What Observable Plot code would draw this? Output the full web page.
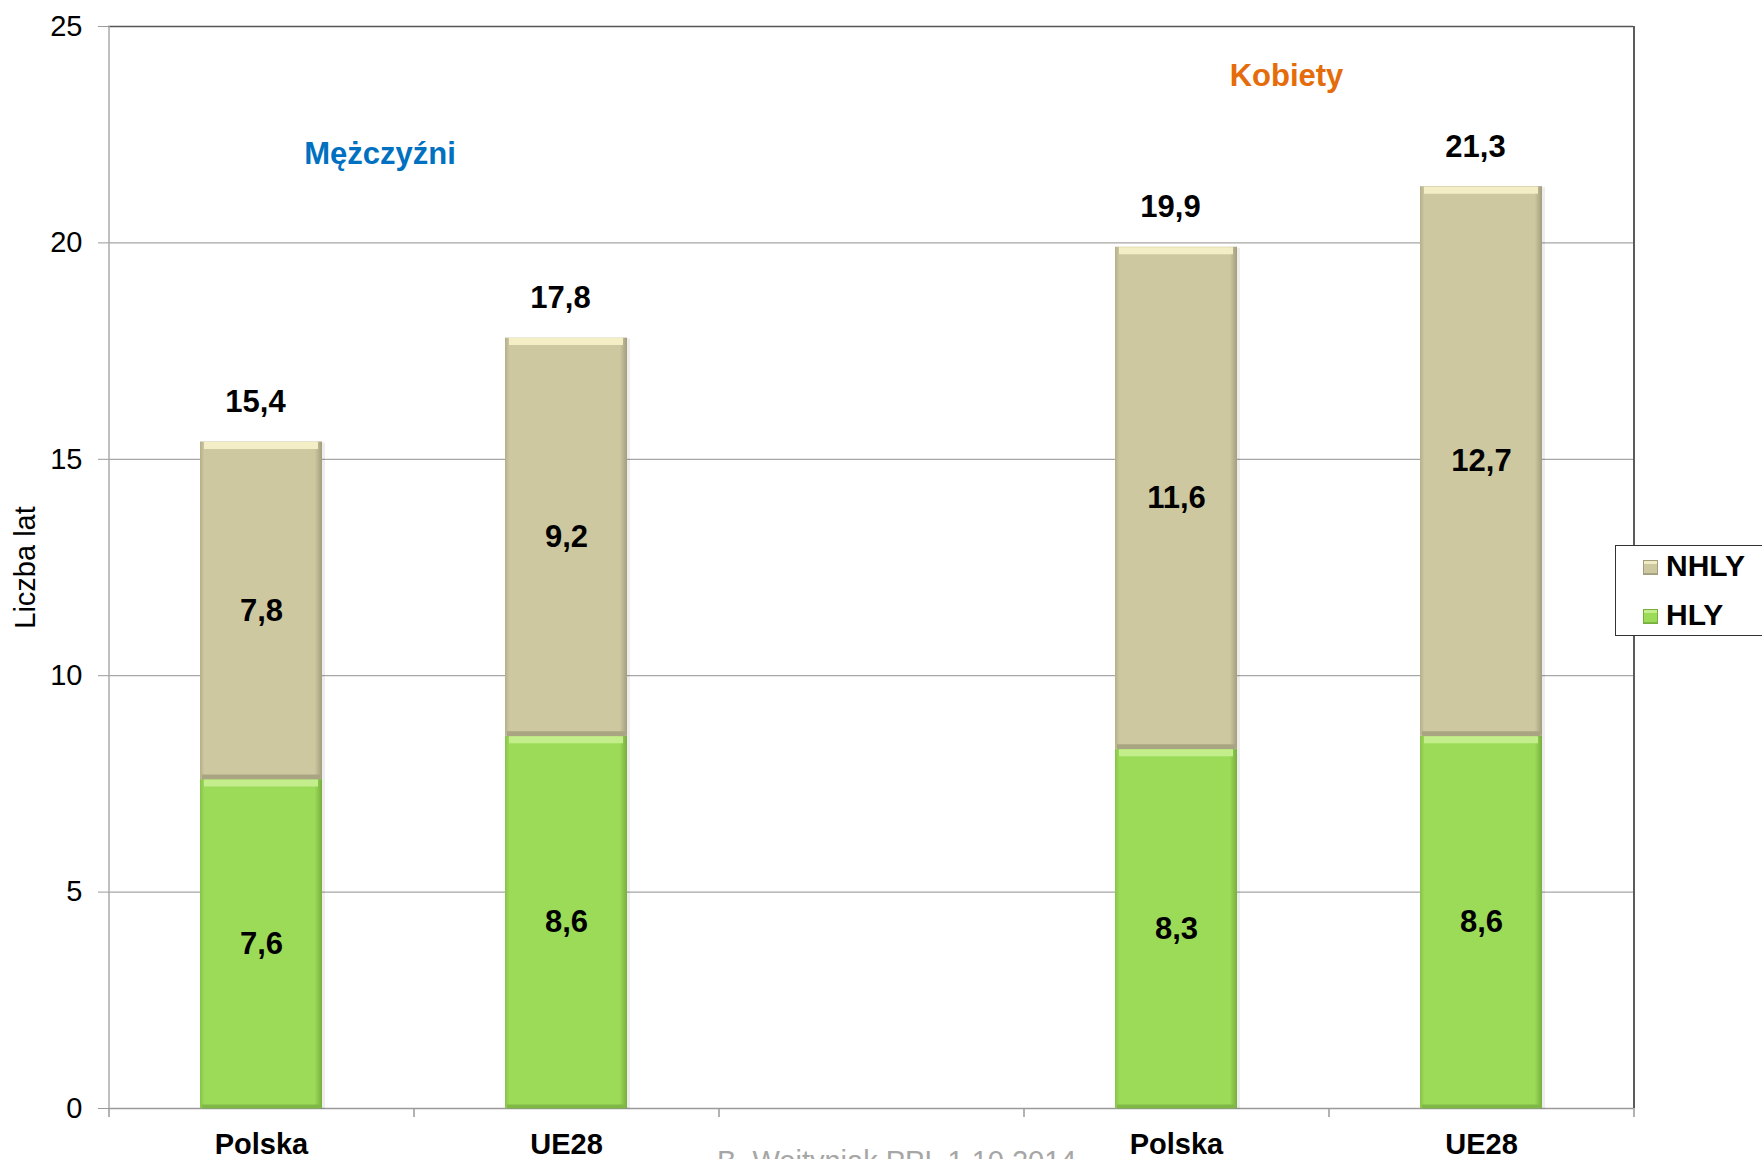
<!DOCTYPE html>
<html><head><meta charset="utf-8">
<script src="https://cdn.jsdelivr.net/npm/d3@7"></script>
<script src="https://cdn.jsdelivr.net/npm/@observablehq/plot@0.6"></script>
<style>
html,body{margin:0;padding:0;background:#fff;overflow:hidden}
#wrap{position:relative;width:1762px;height:1159px;font-family:"Liberation Sans",Arial,sans-serif;overflow:hidden}
#legend{position:absolute;left:1615px;top:545px;width:220px;height:91px;border:1.5px solid #333;background:#fff;box-sizing:border-box}
.item{position:absolute;left:0;height:30px;line-height:30px;font-size:30px;font-weight:bold;color:#000;white-space:nowrap}
.sw{position:absolute;width:15px;height:15px;box-sizing:border-box}
#foot{position:absolute;left:717px;top:1147px;font-size:29px;line-height:29px;color:#a6a6a6;white-space:nowrap}
</style></head><body><div id="wrap"></div>
<script>
// ---- data ----
const categories = ["Polska", "UE28", "", "Polska", "UE28"];
const keys = ["M-Polska", "M-UE28", "gap", "K-Polska", "K-UE28"];
const hly = [7.6, 8.6, null, 8.3, 8.6];
const nhly = [7.8, 9.2, null, 11.6, 12.7];
const totals = [15.4, 17.8, null, 19.9, 21.3];
const yTicks = [0, 5, 10, 15, 20, 25];
const seriesNames = ["NHLY", "HLY"];
const groupLabels = ["Mężczyźni", "Kobiety"];
const yLabel = "Liczba lat";
const footnote = "B. Wojtyniak PPL 1.10.2014";

// ---- build ----
const rows = keys.map((k, i) => ({key: k, hly: hly[i], nhly: nhly[i], total: totals[i]}))
  .filter(d => d.hly != null);
const fmt = v => v.toFixed(1).replace(".", ",");

const W = 1762, H = 1159, mL = 108, mR = 129, mT = 26, mB = 51;
const step = (W - mL - mR) / keys.length;
const plotH = H - mT - mB;

const defs = () => {
  const d = document.createElementNS("http://www.w3.org/2000/svg", "defs");
  d.innerHTML = `
  <linearGradient id="gN" x1="0" x2="1" y1="0" y2="0">
    <stop offset="0" stop-color="#b3ae8c"/><stop offset="0.035" stop-color="#cec8a1"/>
    <stop offset="0.94" stop-color="#cec8a1"/><stop offset="1" stop-color="#a29d7d"/>
  </linearGradient>
  <linearGradient id="gH" x1="0" x2="1" y1="0" y2="0">
    <stop offset="0" stop-color="#86c248"/><stop offset="0.035" stop-color="#9cdb58"/>
    <stop offset="0.94" stop-color="#9cdb58"/><stop offset="1" stop-color="#78ae3e"/>
  </linearGradient>`;
  return d;
};

const chart = Plot.plot({
  width: W, height: H,
  marginLeft: mL, marginRight: mR, marginTop: mT, marginBottom: mB,
  style: {fontFamily: '"Liberation Sans", Arial, sans-serif', fontSize: "29px", color: "#000", background: "#fff", overflow: "visible"},
  x: {type: "band", domain: keys, paddingInner: 0.6, paddingOuter: 0.3, axis: null},
  y: {domain: [0, 25]},
  marks: [
    defs,
    Plot.ruleY(yTicks.slice(1, -1), {stroke: "#a6a6a6", strokeWidth: 1.2}),
    Plot.ruleY([0], {stroke: "#9a9a9a", strokeWidth: 1.5}),
    Plot.ruleY([25], {stroke: "#555", strokeWidth: 1.6}),
    Plot.ruleX([keys[0]], {x: d => d, dx: -step / 2, stroke: "#aaa", strokeWidth: 1.5}),
    Plot.ruleX([keys[keys.length - 1]], {x: d => d, dx: step / 2, stroke: "#333", strokeWidth: 1.6}),
    Plot.ruleX(keys, {x: d => d, dx: -step / 2, insetTop: plotH, insetBottom: -9, stroke: "#9a9a9a", strokeWidth: 1.5}),
    Plot.ruleX([keys[keys.length - 1]], {x: d => d, dx: step / 2, insetTop: plotH, insetBottom: -9, stroke: "#9a9a9a", strokeWidth: 1.5}),
    Plot.axisY({ticks: yTicks, tickSize: 10, tickPadding: 16, stroke: "#9a9a9a", fontSize: 29, tickFormat: d => String(d)}),
    // shadow
    Plot.barY(rows, {x: "key", y1: 0, y2: "total", fill: "#000", fillOpacity: 0.07, dx: 3, dy: 1}),
    // bars
    Plot.barY(rows, {x: "key", y1: 0, y2: "hly", fill: "url(#gH)"}),
    Plot.barY(rows, {x: "key", y1: "hly", y2: "total", fill: "url(#gN)"}),
    // bevels
    Plot.tickY(rows, {x: "key", y: "hly", stroke: "#a9a482", strokeWidth: 5, dy: -2.5, insetLeft: 2, insetRight: 2}),
    Plot.tickY(rows, {x: "key", y: 0, stroke: "#80b848", strokeWidth: 4, dy: -2, insetLeft: 2, insetRight: 2}),
    Plot.tickY(rows, {x: "key", y: "total", stroke: "#f3eec5", strokeWidth: 7, dy: 3.5, insetLeft: 4, insetRight: 4}),
    Plot.tickY(rows, {x: "key", y: "hly", stroke: "#c4ee8c", strokeWidth: 7, dy: 3.5, insetLeft: 4, insetRight: 4}),
    // value labels
    Plot.text(rows, {x: "key", y: d => d.hly / 2, text: d => fmt(d.hly), fontWeight: "bold", fontSize: 31}),
    Plot.text(rows, {x: "key", y: d => (d.hly + d.total) / 2, text: d => fmt(d.nhly), fontWeight: "bold", fontSize: 31}),
    Plot.text(rows, {x: "key", y: "total", dy: -40, dx: -6, text: d => fmt(d.total), fontWeight: "bold", fontSize: 31}),
    // category labels
    Plot.text(keys, {x: d => d, text: (d, i) => categories[i], frameAnchor: "bottom", lineAnchor: "top", dy: 25, fontWeight: "bold", fontSize: 29}),
    // group labels
    Plot.text([groupLabels[0]], {x: () => keys[0], y: () => 22.05, dx: 118.5, text: d => d, fill: "#0070c0", fontWeight: "bold", fontSize: 31}),
    Plot.text([groupLabels[1]], {x: () => keys[3], y: () => 23.85, dx: 110, text: d => d, fill: "#e46c0a", fontWeight: "bold", fontSize: 31}),
    // y label
    Plot.text([yLabel], {frameAnchor: "left", textAnchor: "middle", text: d => d, rotate: -90, dx: -82.5, fontSize: 29})
  ]
});

const wrap = document.getElementById("wrap");
wrap.appendChild(chart);

// legend
const legend = document.createElement("div");
legend.id = "legend";
const swStyles = {
  NHLY: "background:linear-gradient(#f0ebc4 0 3px,#cec8a1 3px 12px,#a9a482 12px);border:1px solid #a29d7d;",
  HLY: "background:linear-gradient(#c4ee8c 0 3px,#9cdb58 3px 12px,#80b848 12px);border:1px solid #78ae3e;"
};
const tops = {NHLY: 5, HLY: 53.5};
seriesNames.forEach(name => {
  const sw = document.createElement("div");
  sw.className = "sw";
  sw.style.cssText = swStyles[name] + `left:27px;top:${tops[name] + 9}px;`;
  legend.appendChild(sw);
  const it = document.createElement("div");
  it.className = "item";
  it.style.left = "50px";
  it.style.top = tops[name] + "px";
  it.textContent = name;
  legend.appendChild(it);
});
wrap.appendChild(legend);

const foot = document.createElement("div");
foot.id = "foot";
foot.textContent = footnote;
wrap.appendChild(foot);
</script></body></html>
